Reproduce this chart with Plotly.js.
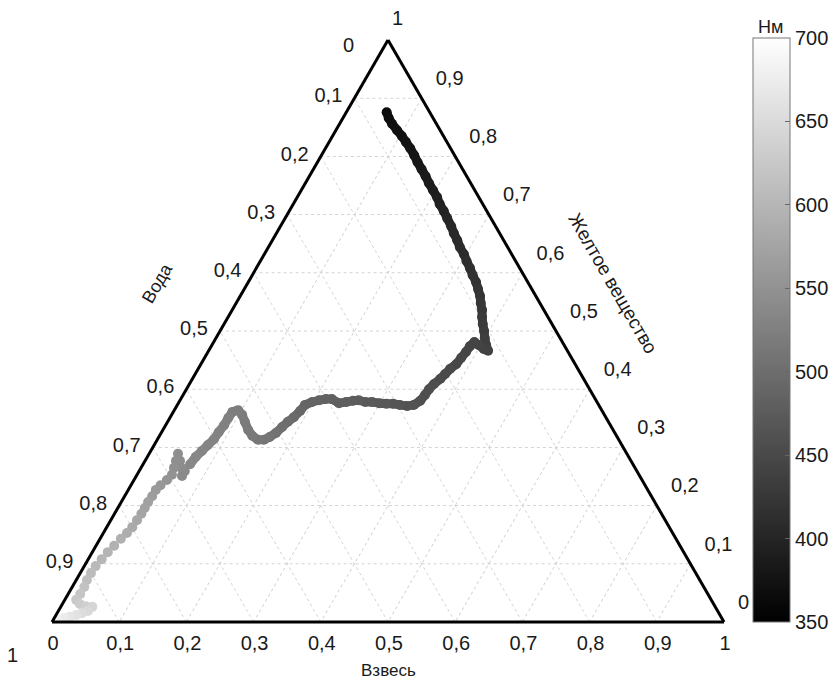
<!DOCTYPE html>
<html><head><meta charset="utf-8">
<script src="https://cdn.plot.ly/plotly-3.0.1.min.js"></script>
<style>html,body{margin:0;padding:0;background:#fff}#chart{width:836px;height:689px}</style>
</head><body><div id="chart"></div>
<script>
// Ternary components
// a = Желтое вещество (top vertex), c = Взвесь (bottom-right vertex), Вода = 1 - a - c
const yellowSubstance = [
0.876,0.866,0.856,0.845,0.835,0.825,0.814,0.802,0.790,0.778,
0.766,0.754,0.742,0.730,0.718,0.706,0.694,0.680,0.668,0.656,
0.644,0.632,0.620,0.608,0.596,0.584,0.572,0.560,0.548,0.536,
0.524,0.512,0.500,0.488,0.476,0.466,0.469,0.476,0.481,0.474,
0.464,0.454,0.443,0.435,0.426,0.418,0.409,0.400,0.390,0.380,
0.373,0.371,0.373,0.375,0.375,0.376,0.378,0.378,0.381,0.380,
0.378,0.376,0.383,0.383,0.381,0.378,0.373,0.363,0.352,0.344,
0.335,0.325,0.318,0.313,0.313,0.320,0.330,0.344,0.356,0.364,
0.361,0.351,0.338,0.326,0.314,0.304,0.294,0.284,0.271,0.259,
0.251,0.265,0.277,0.289,0.277,0.265,0.253,0.244,0.235,0.227,
0.216,0.206,0.196,0.186,0.175,0.163,0.153,0.143,0.131,0.120,
0.108,0.096,0.084,0.072,0.060,0.048,0.038,0.031,0.027,0.026,
0.019,0.015,0.012,0.009,0.007,0.003,0.002];
const suspension = [
0.060,0.068,0.078,0.091,0.103,0.114,0.126,0.138,0.149,0.161,
0.173,0.184,0.196,0.208,0.218,0.230,0.241,0.254,0.264,0.275,
0.285,0.297,0.307,0.318,0.328,0.339,0.348,0.357,0.364,0.372,
0.378,0.385,0.393,0.400,0.408,0.416,0.408,0.397,0.388,0.385,
0.384,0.382,0.380,0.375,0.372,0.369,0.364,0.361,0.360,0.358,
0.352,0.343,0.331,0.320,0.310,0.299,0.287,0.277,0.266,0.258,
0.249,0.239,0.225,0.216,0.207,0.198,0.190,0.188,0.184,0.179,
0.175,0.171,0.165,0.159,0.150,0.138,0.127,0.115,0.105,0.095,
0.088,0.087,0.087,0.085,0.084,0.080,0.076,0.072,0.070,0.068,
0.068,0.060,0.052,0.043,0.046,0.049,0.052,0.049,0.044,0.041,
0.041,0.040,0.040,0.040,0.039,0.038,0.035,0.031,0.027,0.023,
0.020,0.017,0.016,0.016,0.018,0.018,0.017,0.026,0.037,0.047,
0.044,0.037,0.030,0.022,0.014,0.007,0.001];
const wavelength = [
366,368,370,372,374,376,378,380,382,384,
386,388,390,392,395,398,401,403,405,407,
409,411,413,415,417,419,421,423,425,427,
429,431,433,435,437,439,441,442,443,444,
445,447,448,450,452,453,455,457,458,460,
462,464,466,467,469,471,472,474,476,477,
479,481,482,484,486,487,489,492,496,499,
503,506,510,512,514,516,517,519,520,522,
523,525,527,528,530,531,533,535,537,539,
540,542,543,545,546,548,550,553,557,561,
565,569,572,576,580,584,588,591,594,597,
600,604,608,612,616,620,625,630,636,642,
648,654,660,666,672,678,685];

const tickValues = [0,0.1,0.2,0.3,0.4,0.5,0.6,0.7,0.8,0.9,1];
// Labels drawn at each tick (the reference axes run the opposite way round)
const tickLabels = ['1','0,9','0,8','0,7','0,6','0,5','0,4','0,3','0,2','0,1','0'];
const colorbarTicks = [350,400,450,500,550,600,650,700];
const cmin = 350, cmax = 700;

const FONT = 'Liberation Sans, Arial, Helvetica, sans-serif';
const TXT = '#1a1a1a';

function grey(lam) {
  const g = Math.round(255 * (lam - cmin) / (cmax - cmin));
  return 'rgb(' + g + ',' + g + ',' + g + ')';
}

const traces = [];
// thick continuous band where the samples are dense
const denseUntil = 88;
for (let i = 0; i < denseUntil; i++) {
  traces.push({
    type: 'scatterternary', mode: 'lines',
    a: [yellowSubstance[i], yellowSubstance[i + 1]],
    c: [suspension[i], suspension[i + 1]],
    line: {color: grey((wavelength[i] + wavelength[i + 1]) / 2), width: 9},
    hoverinfo: 'skip', showlegend: false
  });
}
traces.push({
  type: 'scatterternary',
  mode: 'markers',
  a: yellowSubstance,
  c: suspension,
  marker: {
    size: 10,
    color: wavelength,
    cmin: cmin, cmax: cmax,
    colorscale: [[0,'rgb(0,0,0)'],[1,'rgb(255,255,255)']],
    line: {width: 0},
    showscale: true,
    colorbar: {
      x: 1.043, xanchor: 'left', y: 0, yanchor: 'bottom',
      len: 584, lenmode: 'pixels', thickness: 37, thicknessmode: 'pixels',
      xpad: 0, ypad: 0, outlinewidth: 1, outlinecolor: '#777',
      ticks: 'inside', ticklen: 5, tickcolor: '#666',
      tickmode: 'array', tickvals: colorbarTicks,
      tickfont: {size: 20, color: TXT, family: FONT}
    }
  },
  hoverinfo: 'skip', showlegend: false
});

function axis(vals, len) {
  return {
    tickmode: 'array', tickvals: vals,
    ticktext: vals.map(v => tickLabels[tickValues.indexOf(v)]),
    showgrid: true, gridcolor: '#d4d4d4', griddash: 'dot', gridwidth: 1,
    showline: true, linecolor: '#000', linewidth: 3,
    ticks: 'outside', ticklen: len, tickcolor: 'rgba(0,0,0,0)',
    tickfont: {size: 20, color: TXT, family: FONT},
    title: {text: ''}
  };
}

// corner labels that sit apart from their axis in the reference
const cornerA0 = tickLabels[0];   // Вода = 1 (bottom-left)
const cornerA1 = tickLabels[10];  // Вода = 0 (top)
const cornerC0 = tickLabels[0];   // Желтое вещество = 1 (top)

const layout = {
  width: 836, height: 689,
  margin: {l: 52, r: 112, t: 40, b: 67, autoexpand: false},
  paper_bgcolor: '#fff',
  font: {family: FONT, color: TXT},
  showlegend: false,
  ternary: {
    sum: 1, bgcolor: '#fff',
    domain: {x: [0,1], y: [0,1]},
    aaxis: axis(tickValues.slice(1, 10), 8),
    baxis: axis(tickValues, 2),
    caxis: axis(tickValues.slice(1), 20)
  },
  annotations: [
    {text: 'Вода', xref: 'paper', yref: 'paper', x: 0.157, y: 0.582, xanchor: 'center', yanchor: 'middle', showarrow: false, textangle: -60, font: {size: 18, color: TXT}},
    {text: 'Желтое вещество', xref: 'paper', yref: 'paper', x: 0.835, y: 0.582, xanchor: 'center', yanchor: 'middle', showarrow: false, textangle: 60, font: {size: 19, color: TXT}},
    {text: 'Взвесь', xref: 'paper', yref: 'paper', x: 0.5, y: -0.084, xanchor: 'center', yanchor: 'middle', showarrow: false, font: {size: 17, color: TXT}},
    {text: 'Нм', xref: 'paper', yref: 'paper', x: 1.0685, y: 1.022, xanchor: 'center', yanchor: 'middle', showarrow: false, font: {size: 18, color: TXT}},
    {text: cornerA1, xref: 'paper', yref: 'paper', x: 0.4405, y: 0.9914, xanchor: 'center', yanchor: 'middle', showarrow: false, font: {size: 20, color: TXT}},
    {text: cornerC0, xref: 'paper', yref: 'paper', x: 0.5134, y: 1.0378, xanchor: 'center', yanchor: 'middle', showarrow: false, font: {size: 20, color: TXT}},
    {text: cornerA0, xref: 'paper', yref: 'paper', x: -0.0595, y: -0.0567, xanchor: 'center', yanchor: 'middle', showarrow: false, font: {size: 20, color: TXT}}
  ]
};

Plotly.newPlot('chart', traces, layout, {displayModeBar: false, staticPlot: true});
</script>
</body></html>
